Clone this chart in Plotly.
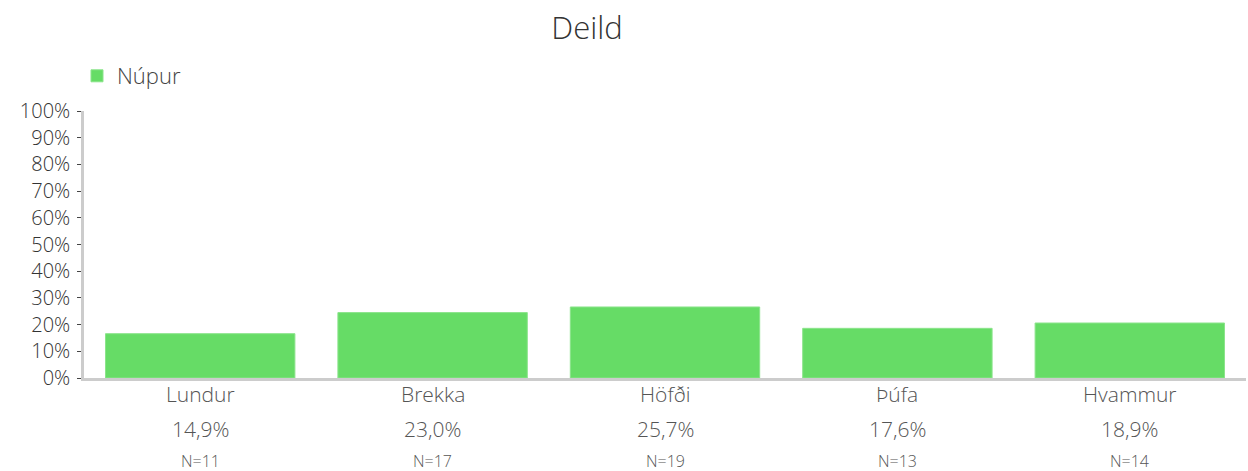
import plotly.graph_objects as go

categories = ["Lundur", "Brekka", "Höfði", "Þúfa", "Hvammur"]
bar_values = [16.6, 24.5, 26.6, 18.6, 20.6]
label_pct = ["14,9%", "23,0%", "25,7%", "17,6%", "18,9%"]
n_counts = [11, 17, 19, 13, 14]
series_name = "Núpur"
title_text = "Deild"
y_ticks = [0, 10, 20, 30, 40, 50, 60, 70, 80, 90, 100]
y_tick_text = [f"{v}%" for v in y_ticks]

FONT = "'Open Sans', Lato, sans-serif"
W = 300

fig = go.Figure()
fig.add_trace(go.Bar(
    x=categories, y=bar_values, name=series_name,
    marker=dict(color="#66DC66", line=dict(color="#8BE48B", width=1)),
    showlegend=True, hoverinfo="skip",
))

annotations = []
for c, p, n in zip(categories, label_pct, n_counts):
    annotations.append(dict(x=c, xref="x", y=0, yref="y", yanchor="middle", yshift=-16,
                            text=c, showarrow=False,
                            font=dict(family=FONT, size=21, color="#555", weight=W)))
    annotations.append(dict(x=c, xref="x", y=0, yref="y", yanchor="middle", yshift=-51,
                            text=p, showarrow=False,
                            font=dict(family=FONT, size=21, color="#555", weight=W)))
    annotations.append(dict(x=c, xref="x", y=0, yref="y", yanchor="middle", yshift=-83,
                            text=f"N={n}", showarrow=False,
                            font=dict(family=FONT, size=16, color="#555", weight=W)))

fig.update_layout(
    width=1248, height=471,
    paper_bgcolor="white", plot_bgcolor="white",
    margin=dict(l=84, r=2, t=111, b=93, autoexpand=False),
    font=dict(family=FONT, color="#444", weight=W),
    title=dict(text=title_text, x=587/1248, xref="container", xanchor="center",
               y=1 - 28/471, yref="container", yanchor="middle",
               font=dict(family=FONT, size=31, color="#333", weight=W)),
    bargap=0.185,
    showlegend=True,
    legend=dict(orientation="h", x=77/1248, xref="container", xanchor="left",
                y=1 - 55/471, yref="container", yanchor="top",
                font=dict(family=FONT, size=22, color="#444", weight=W),
                bgcolor="rgba(0,0,0,0)"),
    annotations=annotations,
    xaxis=dict(
        showline=True, linecolor="#ccc", linewidth=3,
        ticks="", showgrid=False, zeroline=False, automargin=False,
        showticklabels=False,
    ),
    yaxis=dict(
        range=[0, 100], tickmode="array", tickvals=y_ticks, ticktext=y_tick_text,
        showline=True, linecolor="#ccc", linewidth=2.5, automargin=False,
        ticks="outside", ticklen=4, tickcolor="#444", tickwidth=1,
        showgrid=False, zeroline=False,
        tickfont=dict(family=FONT, size=20, color="#333", weight=W),
        ticklabelstandoff=3,
    ),
)

fig.write_html("out.html", config={"displayModeBar": False},
               post_script="document.body.style.margin='0';")
